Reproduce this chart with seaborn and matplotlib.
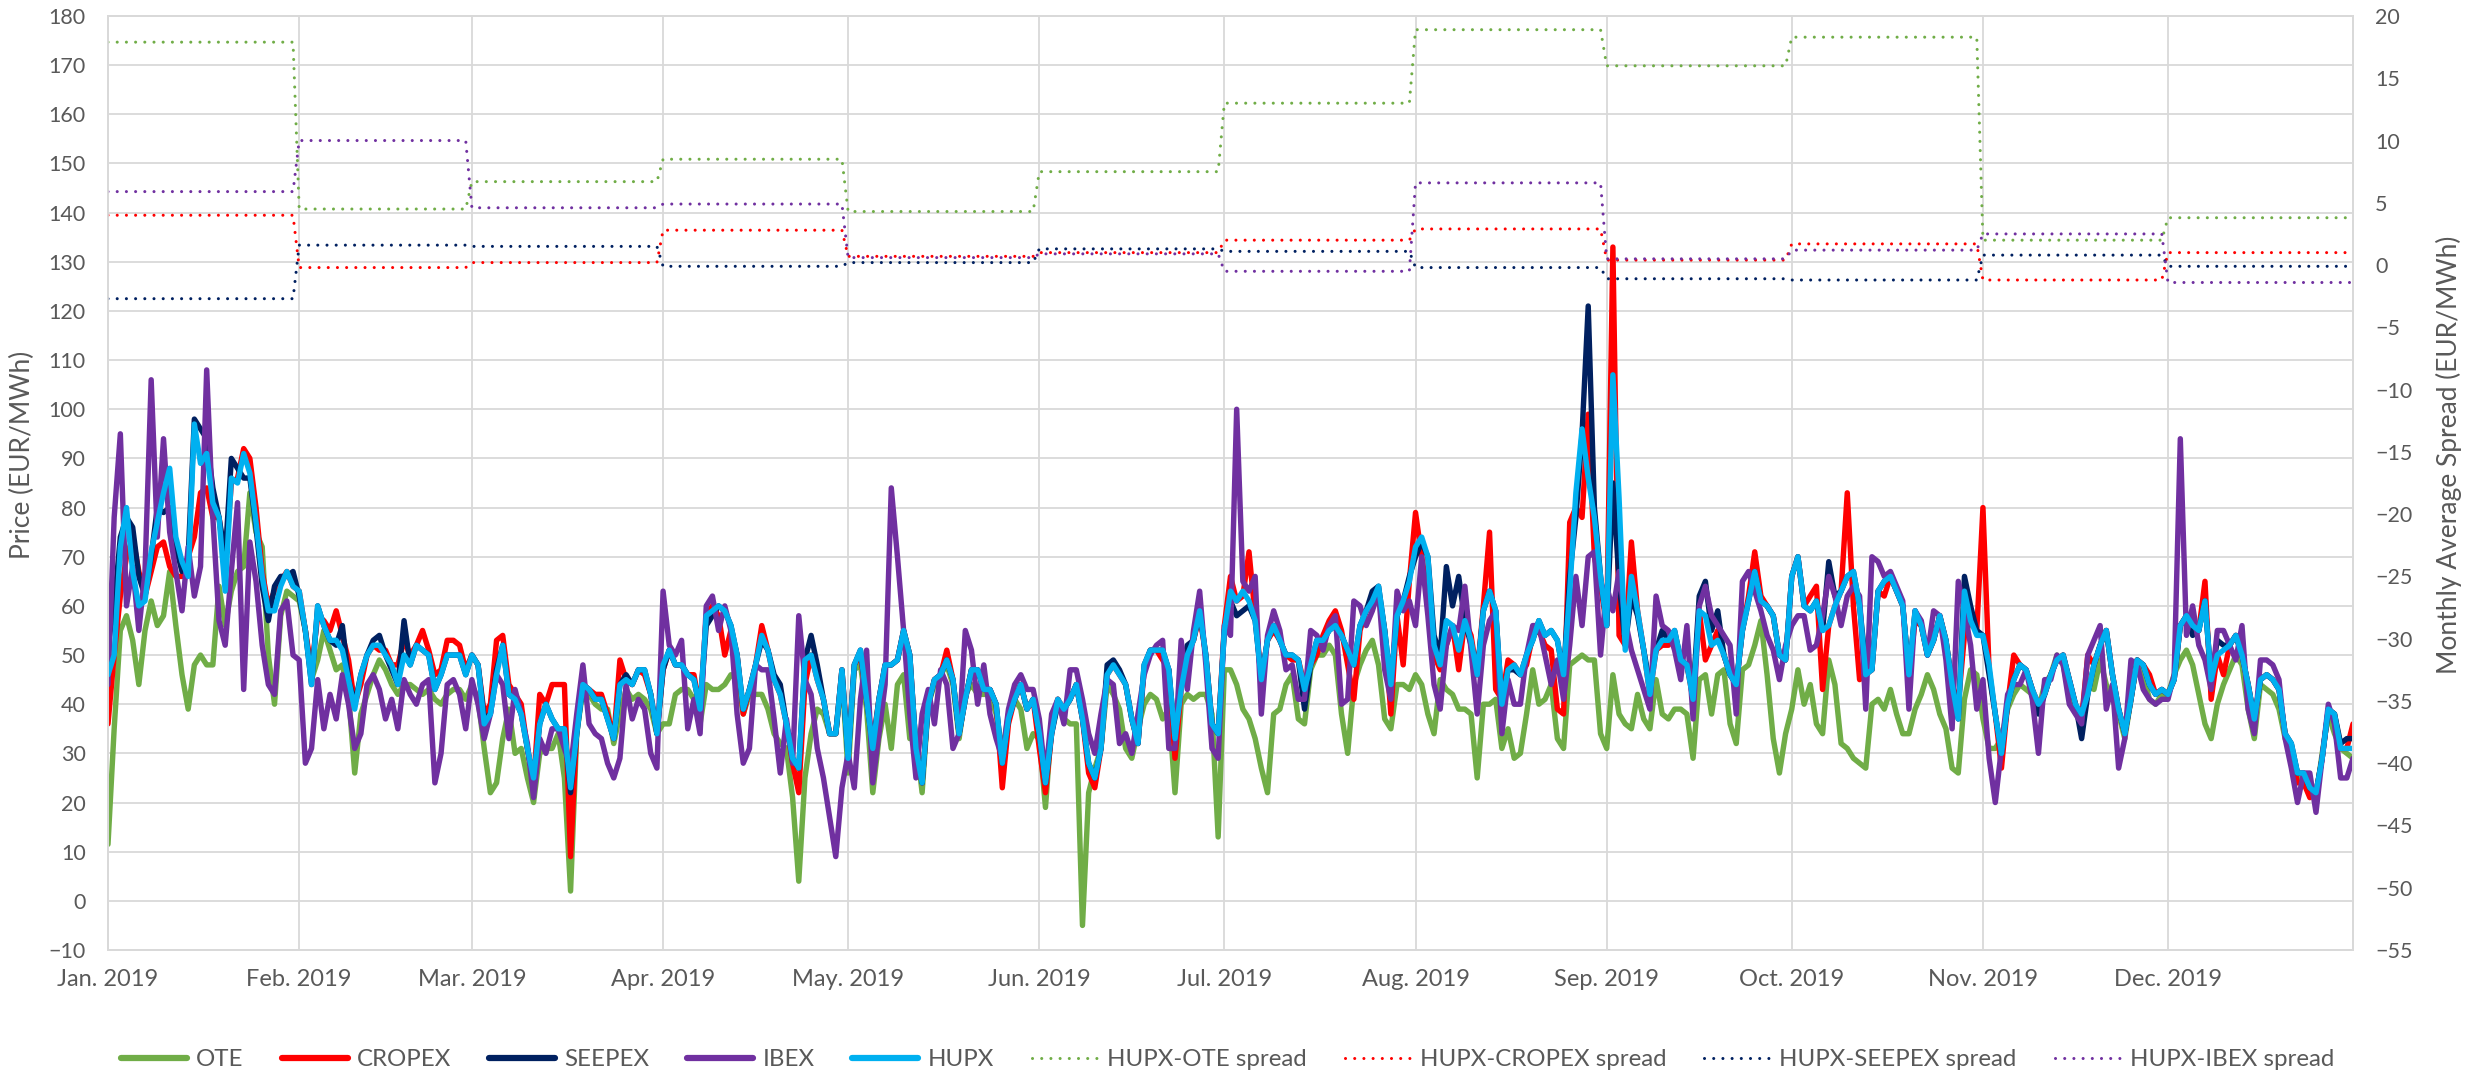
import numpy as np
import pandas as pd
import seaborn as sns
import matplotlib.pyplot as plt
from matplotlib.lines import Line2D

# calendar of 2019, one value per day
days_in_month = [31, 28, 31, 30, 31, 30, 31, 31, 30, 31, 30, 31]
month_labels = ['Jan. 2019', 'Feb. 2019', 'Mar. 2019', 'Apr. 2019', 'May. 2019', 'Jun. 2019',
                'Jul. 2019', 'Aug. 2019', 'Sep. 2019', 'Oct. 2019', 'Nov. 2019', 'Dec. 2019']

# daily base-load prices (EUR/MWh), one row per month
ote = [
    11.5, 35, 55, 58, 53, 44, 55, 61, 56, 58, 67, 56, 46, 39, 48, 50, 48, 48, 64, 56, 63, 67, 68, 83, 75, 72, 50, 40, 58, 63, 62,
    61, 55, 45, 49, 55, 51, 47, 48, 42, 26, 38, 42, 46, 49, 47, 44, 42, 44, 44, 43, 42, 43, 41, 40, 42, 43, 43, 41,
    44, 41, 31, 22, 24, 33, 39, 30, 31, 25, 20, 30, 31, 31, 34, 25, 2, 34, 43, 42, 40, 39, 39, 32, 38, 43, 41, 42, 41, 39, 34,
    36, 36, 42, 43, 43, 41, 36, 44, 43, 43, 44, 46, 45, 38, 42, 42, 42, 39, 34, 32, 31, 21, 4, 25, 34, 39, 38, 34, 34, 46,
    26, 47, 48, 39, 22, 33, 40, 31, 44, 46, 33, 33, 22, 40, 44, 46, 48, 44, 33, 42, 44, 42, 42, 42, 38, 30, 38, 41, 39, 31, 34,
    33, 19, 36, 41, 37, 36, 36, -5, 22, 27, 31, 44, 42, 39, 31, 29, 35, 40, 42, 41, 37, 39, 22, 40, 42, 41, 42, 42, 38, 13,
    47, 47, 44, 39, 37, 33, 27, 22, 38, 39, 44, 46, 37, 36, 47, 50, 50, 52, 50, 38, 30, 44, 48, 51, 53, 48, 37, 35, 44, 44, 43,
    46, 44, 38, 34, 45, 43, 42, 39, 39, 38, 25, 40, 40, 41, 31, 35, 29, 30, 38, 47, 40, 41, 44, 33, 31, 48, 49, 50, 49, 49, 34,
    31, 46, 38, 36, 35, 42, 37, 35, 45, 38, 37, 39, 39, 38, 29, 45, 46, 38, 46, 47, 36, 32, 47, 48, 52, 57, 46, 33, 26, 34,
    39, 47, 40, 44, 36, 34, 49, 44, 32, 31, 29, 28, 27, 40, 41, 39, 43, 38, 34, 34, 39, 42, 46, 43, 38, 35, 27, 26, 41, 47, 46,
    37, 31, 31, 33, 39, 42, 44, 43, 42, 39, 44, 46, 50, 48, 42, 39, 38, 44, 43, 49, 44, 41, 38, 33, 41, 49, 46, 41, 40, 42,
    42, 46, 49, 51, 48, 42, 36, 33, 40, 44, 47, 50, 48, 39, 33, 44, 43, 42, 39, 33, 31, 26, 24, 22, 21, 30, 38, 34, 31, 30, 29,
]
cropex = [
    36, 50, 62, 70, 74, 67, 62, 67, 72, 73, 68, 66, 66, 70, 74, 83, 84, 78, 78, 68, 85, 86, 92, 90, 80, 67, 60, 63, 65, 67, 64,
    63, 55, 47, 58, 57, 55, 59, 54, 49, 40, 44, 50, 52, 51, 51, 48, 48, 53, 50, 52, 55, 51, 46, 47, 53, 53, 52, 47,
    50, 48, 38, 40, 53, 54, 44, 42, 40, 31, 24, 42, 40, 44, 44, 44, 9, 35, 44, 43, 42, 42, 38, 33, 49, 45, 44, 47, 46, 42, 34,
    47, 51, 48, 48, 46, 46, 39, 58, 60, 58, 50, 55, 50, 38, 43, 48, 56, 51, 45, 42, 36, 28, 22, 44, 50, 45, 41, 34, 34, 47,
    30, 48, 50, 41, 32, 41, 48, 48, 49, 55, 50, 31, 24, 40, 45, 46, 51, 45, 34, 41, 47, 47, 43, 43, 40, 23, 36, 41, 44, 39, 41,
    31, 22, 34, 41, 39, 41, 44, 37, 26, 23, 31, 46, 48, 46, 44, 37, 32, 47, 51, 51, 49, 47, 29, 43, 50, 53, 58, 50, 36, 34,
    56, 66, 61, 62, 71, 58, 45, 53, 55, 53, 50, 49, 49, 44, 48, 50, 54, 57, 59, 55, 48, 41, 55, 59, 61, 63, 55, 38, 58, 48, 65,
    79, 70, 62, 50, 47, 52, 56, 47, 57, 54, 46, 60, 75, 43, 41, 49, 48, 46, 48, 54, 55, 52, 51, 39, 38, 77, 80, 78, 99, 70, 64,
    56, 133, 54, 52, 73, 59, 51, 42, 51, 52, 52, 54, 49, 48, 41, 59, 49, 52, 55, 50, 46, 44, 55, 62, 71, 62, 60, 58, 50, 49,
    66, 70, 60, 62, 64, 43, 56, 60, 63, 83, 60, 45, 46, 47, 63, 62, 66, 63, 60, 46, 57, 56, 50, 53, 58, 53, 44, 40, 54, 57, 55,
    80, 47, 38, 27, 40, 50, 48, 47, 43, 40, 42, 46, 49, 50, 45, 40, 37, 50, 48, 52, 55, 46, 39, 34, 41, 49, 48, 46, 42, 43,
    42, 45, 56, 58, 56, 55, 65, 41, 50, 46, 52, 54, 50, 44, 37, 45, 46, 45, 43, 34, 30, 24, 24, 21, 22, 29, 39, 38, 31, 31, 36,
]
seepex = [
    52, 60, 74, 78, 76, 66, 62, 70, 80, 79, 80, 72, 67, 70, 98, 96, 94, 84, 78, 70, 90, 88, 86, 86, 76, 64, 57, 64, 66, 66, 67,
    62, 55, 44, 60, 56, 53, 52, 56, 45, 40, 46, 50, 53, 54, 50, 47, 44, 57, 48, 52, 51, 50, 43, 46, 50, 50, 50, 46,
    50, 48, 37, 38, 47, 52, 42, 41, 38, 31, 24, 36, 40, 37, 35, 35, 22, 34, 44, 43, 41, 41, 37, 33, 44, 46, 44, 47, 47, 42, 34,
    47, 51, 48, 48, 46, 45, 39, 56, 58, 60, 59, 56, 50, 39, 43, 48, 53, 51, 46, 44, 36, 29, 27, 49, 54, 48, 41, 34, 34, 47,
    29, 48, 51, 41, 31, 41, 48, 48, 49, 55, 50, 31, 24, 40, 45, 46, 49, 45, 34, 41, 47, 47, 43, 43, 40, 28, 37, 41, 44, 39, 41,
    34, 24, 34, 40, 39, 41, 44, 37, 28, 25, 31, 48, 49, 47, 44, 37, 32, 48, 51, 51, 51, 47, 33, 45, 52, 53, 59, 50, 36, 34,
    55, 61, 58, 59, 60, 57, 45, 53, 56, 53, 50, 50, 49, 39, 48, 53, 53, 55, 56, 54, 51, 48, 56, 59, 63, 64, 55, 44, 58, 61, 66,
    70, 73, 70, 54, 50, 68, 60, 66, 57, 52, 46, 59, 63, 59, 40, 47, 47, 46, 50, 53, 57, 54, 55, 53, 46, 66, 78, 95, 121, 80, 66,
    56, 85, 65, 52, 62, 58, 51, 44, 51, 55, 53, 55, 49, 48, 42, 62, 65, 55, 59, 50, 46, 44, 55, 61, 67, 61, 60, 58, 50, 49,
    66, 70, 60, 59, 61, 55, 69, 62, 63, 66, 67, 60, 48, 47, 63, 65, 66, 63, 60, 46, 59, 56, 50, 53, 58, 53, 44, 37, 66, 60, 55,
    54, 46, 38, 30, 40, 45, 48, 47, 43, 38, 42, 46, 49, 50, 45, 40, 33, 42, 48, 52, 55, 46, 39, 34, 41, 49, 48, 44, 42, 43,
    42, 45, 56, 58, 54, 55, 61, 45, 53, 52, 52, 54, 50, 44, 37, 45, 46, 45, 43, 34, 32, 26, 26, 23, 22, 29, 39, 38, 32, 33, 33,
]
ibex = [
    44, 78, 95, 60, 68, 55, 67, 106, 74, 94, 75, 67, 59, 72, 62, 68, 108, 78, 57, 52, 67, 81, 43, 73, 65, 52, 44, 42, 59, 61, 50,
    49, 28, 31, 45, 35, 42, 37, 46, 40, 31, 34, 44, 46, 43, 37, 41, 35, 45, 42, 40, 44, 45, 24, 30, 44, 45, 42, 35,
    45, 40, 33, 38, 46, 44, 33, 43, 38, 32, 21, 33, 30, 35, 35, 31, 27, 38, 48, 36, 34, 33, 28, 25, 29, 44, 37, 41, 39, 30, 27,
    63, 52, 50, 53, 35, 41, 34, 60, 62, 55, 60, 55, 38, 28, 31, 48, 47, 47, 37, 26, 37, 28, 58, 45, 42, 31, 25, 17, 9, 23,
    30, 23, 41, 51, 24, 34, 44, 84, 70, 55, 38, 25, 38, 43, 36, 47, 44, 31, 34, 55, 51, 40, 48, 38, 33, 29, 39, 44, 46, 43, 43,
    37, 25, 38, 41, 36, 47, 47, 41, 34, 30, 38, 45, 44, 32, 34, 30, 38, 46, 50, 52, 53, 31, 31, 53, 43, 55, 63, 48, 31, 29,
    56, 54, 100, 65, 63, 66, 38, 54, 59, 55, 47, 48, 41, 41, 55, 54, 51, 56, 58, 40, 41, 61, 60, 56, 59, 63, 47, 41, 63, 59, 61,
    56, 70, 58, 44, 39, 52, 56, 55, 64, 51, 38, 52, 57, 59, 34, 45, 40, 40, 50, 56, 56, 50, 44, 49, 41, 52, 66, 56, 70, 71, 50,
    64, 59, 67, 57, 51, 47, 43, 39, 62, 56, 55, 51, 45, 56, 37, 60, 64, 58, 56, 54, 52, 38, 65, 67, 63, 59, 54, 51, 45, 52,
    56, 58, 58, 51, 52, 58, 66, 62, 56, 62, 64, 62, 39, 70, 69, 66, 67, 64, 61, 39, 59, 57, 50, 59, 58, 49, 35, 65, 59, 52, 39,
    45, 29, 20, 31, 42, 44, 44, 47, 41, 30, 45, 45, 50, 48, 40, 38, 36, 50, 53, 56, 39, 44, 27, 33, 49, 48, 43, 41, 40, 41,
    41, 46, 94, 54, 60, 52, 49, 43, 55, 55, 52, 49, 56, 39, 34, 49, 49, 48, 45, 33, 27, 20, 26, 26, 18, 29, 40, 36, 25, 25, 29,
]
hupx = [
    46, 50, 72, 80, 67, 60, 61, 71, 77, 83, 88, 74, 69, 66, 97, 89, 91, 81, 78, 63, 86, 85, 91, 87, 77, 66, 59, 59, 64, 67, 64,
    63, 55, 44, 60, 56, 53, 53, 51, 45, 39, 46, 50, 52, 52, 50, 48, 44, 50, 48, 52, 51, 50, 43, 46, 50, 50, 50, 46,
    50, 48, 36, 38, 46, 52, 42, 41, 38, 31, 25, 36, 40, 37, 35, 35, 23, 34, 44, 43, 41, 41, 37, 33, 44, 45, 44, 47, 47, 42, 34,
    48, 51, 48, 48, 46, 45, 39, 58, 59, 60, 59, 56, 50, 39, 43, 48, 54, 51, 45, 42, 36, 29, 27, 49, 50, 45, 41, 34, 34, 47,
    29, 48, 51, 41, 31, 41, 48, 48, 49, 55, 50, 31, 24, 40, 45, 46, 49, 45, 34, 41, 47, 47, 43, 43, 40, 28, 37, 41, 44, 39, 41,
    34, 24, 34, 41, 39, 41, 44, 37, 28, 25, 31, 46, 48, 46, 44, 37, 32, 48, 51, 51, 51, 47, 33, 43, 50, 53, 59, 50, 36, 34,
    55, 63, 61, 63, 61, 57, 45, 53, 56, 53, 50, 50, 49, 43, 48, 53, 53, 55, 56, 54, 51, 48, 56, 59, 61, 64, 55, 44, 58, 61, 65,
    72, 74, 70, 52, 48, 57, 56, 51, 57, 53, 46, 59, 63, 59, 40, 47, 48, 46, 50, 53, 57, 54, 55, 53, 46, 63, 83, 96, 86, 78, 66,
    56, 107, 82, 51, 66, 59, 51, 42, 51, 53, 53, 55, 49, 48, 41, 59, 58, 52, 53, 50, 46, 44, 55, 61, 67, 61, 60, 58, 50, 49,
    66, 70, 60, 59, 61, 55, 56, 60, 63, 66, 67, 60, 46, 47, 63, 65, 66, 63, 60, 46, 59, 56, 50, 53, 58, 53, 44, 37, 63, 57, 54,
    54, 48, 38, 30, 40, 45, 48, 47, 43, 40, 42, 46, 49, 50, 45, 40, 38, 42, 48, 52, 55, 46, 39, 34, 41, 49, 48, 44, 42, 43,
    42, 45, 56, 58, 56, 55, 61, 45, 50, 51, 52, 54, 50, 44, 37, 45, 46, 45, 43, 34, 32, 26, 26, 23, 22, 29, 39, 38, 31, 31, 31,
]

# monthly average spreads (EUR/MWh), right axis
spread_ote = [17.9, 4.5, 6.7, 8.5, 4.3, 7.5, 13.0, 18.9, 16.0, 18.3, 2.0, 3.8]
spread_cropex = [4.0, -0.2, 0.2, 2.8, 0.7, 1.0, 2.0, 2.9, 0.4, 1.7, -1.2, 1.0]
spread_seepex = [-2.7, 1.6, 1.5, -0.1, 0.2, 1.3, 1.1, -0.2, -1.1, -1.2, 0.8, -0.1]
spread_ibex = [5.9, 10.0, 4.6, 4.9, 0.6, 0.9, -0.5, 6.6, 0.5, 1.2, 2.5, -1.4]

green, red, navy, purple, cyan = '#70AD47', '#FF0000', '#002060', '#7030A0', '#00B0F0'
grey_text = '#595959'
grid_col = '#D9D9D9'

day = np.arange(sum(days_in_month))
month_start = np.cumsum([0] + days_in_month[:-1])

sns.set_style('white')
plt.rcParams['font.family'] = ['Lato', 'DejaVu Sans']

W, H = 2479, 1076
fig = plt.figure(figsize=(W / 100, H / 100), dpi=100)
ax = fig.add_axes([108 / W, 1 - 950 / H, (2353 - 108) / W, (950 - 16) / H])
ax2 = ax.twinx()

prices = [('OTE', ote, green), ('CROPEX', cropex, red), ('SEEPEX', seepex, navy),
          ('IBEX', ibex, purple), ('HUPX', hupx, cyan)]
for name, vals, col in prices:
    sns.lineplot(x=day, y=vals, ax=ax, color=col, lw=3.9, legend=False,
                 solid_joinstyle='round', solid_capstyle='round')

dotted = (0, (0.01, 3.0))
spreads = [('HUPX-OTE spread', spread_ote, green), ('HUPX-CROPEX spread', spread_cropex, red),
           ('HUPX-SEEPEX spread', spread_seepex, navy), ('HUPX-IBEX spread', spread_ibex, purple)]
for name, vals, col in spreads:
    daily = np.repeat(vals, days_in_month)
    sns.lineplot(x=day, y=daily, ax=ax2, color=col, lw=2.2, linestyle=dotted,
                 dash_capstyle='round', legend=False)

ax.set_xlim(0, day[-1])
ax.set_ylim(-10, 180)
ax.set_yticks(range(-10, 181, 10))
ax2.set_ylim(-55, 20)
ax2.set_yticks(range(-55, 21, 5))
ax.set_xticks(month_start)
ax.set_xticklabels(month_labels)
ax.set_xlabel('')
ax.set_ylabel('')
ax2.set_ylabel('')

ax.grid(True, color=grid_col, lw=1.3)
ax2.grid(False)
ax.set_axisbelow(True)
for a in (ax, ax2):
    for s in a.spines.values():
        s.set_color(grid_col)
        s.set_linewidth(1.3)

ax.tick_params(axis='y', length=0, labelsize=15.5, labelcolor=grey_text, pad=16)
ax.tick_params(axis='x', length=0, labelsize=17, labelcolor=grey_text, pad=14)
ax2.tick_params(axis='y', length=0, labelsize=15.5, labelcolor=grey_text, pad=16)

fig.text(22 / W, 1 - 455 / H, 'Price (EUR/MWh)', rotation=90, ha='center', va='center',
         fontsize=19, color=grey_text)
fig.text(2449 / W, 1 - 455 / H, 'Monthly Average Spread (EUR/MWh)', rotation=90,
         ha='center', va='center', fontsize=19, color=grey_text)

handles = [Line2D([], [], color=c, lw=4.5, solid_capstyle='round') for _, _, c in prices]
handles += [Line2D([], [], color=c, lw=2.2, linestyle=dotted, dash_capstyle='round') for _, _, c in spreads]
labels = [p[0] for p in prices] + [s[0] for s in spreads]
fig.legend(handles, labels, loc='center', bbox_to_anchor=(0.4952, 1 - 1060 / H), ncol=9,
           frameon=False, fontsize=17.3, handlelength=2.75, handletextpad=0.375,
           columnspacing=1.58, labelcolor=grey_text)

fig.savefig('out.png', dpi=100)
